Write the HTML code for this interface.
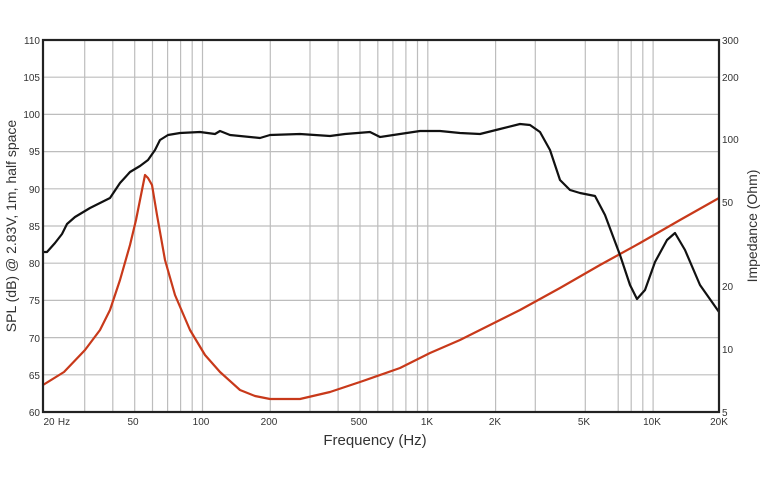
<!DOCTYPE html>
<html><head><meta charset="utf-8"><style>
html,body{margin:0;padding:0;background:#fff;}
svg{display:block;font-family:"Liberation Sans",sans-serif;}
</style></head><body>
<svg width="767" height="484" viewBox="0 0 767 484">
<rect width="767" height="484" fill="#fff"/>
<g stroke="#bdbdbd" stroke-width="1.2">
<line x1="43" x2="719" y1="77.2" y2="77.2"/><line x1="43" x2="719" y1="114.4" y2="114.4"/><line x1="43" x2="719" y1="151.6" y2="151.6"/><line x1="43" x2="719" y1="188.8" y2="188.8"/><line x1="43" x2="719" y1="226" y2="226"/><line x1="43" x2="719" y1="263.2" y2="263.2"/><line x1="43" x2="719" y1="300.4" y2="300.4"/><line x1="43" x2="719" y1="337.6" y2="337.6"/><line x1="43" x2="719" y1="374.8" y2="374.8"/>
<line x1="84.7" x2="84.7" y1="40" y2="412"/><line x1="112.8" x2="112.8" y1="40" y2="412"/><line x1="134.7" x2="134.7" y1="40" y2="412"/><line x1="152.5" x2="152.5" y1="40" y2="412"/><line x1="167.6" x2="167.6" y1="40" y2="412"/><line x1="180.6" x2="180.6" y1="40" y2="412"/><line x1="192.2" x2="192.2" y1="40" y2="412"/><line x1="202.5" x2="202.5" y1="40" y2="412"/>
<line x1="270.3" x2="270.3" y1="40" y2="412"/><line x1="310" x2="310" y1="40" y2="412"/><line x1="338.1" x2="338.1" y1="40" y2="412"/><line x1="360" x2="360" y1="40" y2="412"/><line x1="377.8" x2="377.8" y1="40" y2="412"/><line x1="392.9" x2="392.9" y1="40" y2="412"/><line x1="405.9" x2="405.9" y1="40" y2="412"/><line x1="417.5" x2="417.5" y1="40" y2="412"/><line x1="427.8" x2="427.8" y1="40" y2="412"/>
<line x1="495.6" x2="495.6" y1="40" y2="412"/><line x1="535.3" x2="535.3" y1="40" y2="412"/><line x1="585.3" x2="585.3" y1="40" y2="412"/><line x1="618.2" x2="618.2" y1="40" y2="412"/><line x1="631.2" x2="631.2" y1="40" y2="412"/><line x1="642.8" x2="642.8" y1="40" y2="412"/><line x1="653.1" x2="653.1" y1="40" y2="412"/>
</g>
<polyline fill="none" stroke="#c8391a" stroke-width="2.2" stroke-linejoin="round" points="43,385 64,372 85,350 100,330 110,310 120,280 130,245 136,220 142,190 145,175 148,178 152,185 157,215 165,260 175,295 190,330 205,355 220,372 240,390 255,396 270,399 300,399 330,392 360,382 400,368 430,353 460,340 490,325 520,310 560,288 600,265 640,243 680,220 719,198"/>
<polyline fill="none" stroke="#111" stroke-width="2.2" stroke-linejoin="round" points="43,252 47,252 55,243 62,234 67,224 75,217 90,208 110,198 120,183 130,172 140,166 148,160 155,150 160,140 168,135 180,133 200,132 215,134 220,131 230,135 260,138 270,135 300,134 330,136 345,134 370,132 380,137 400,134 420,131 440,131 460,133 480,134 500,129 520,124 530,125 540,132 550,150 560,180 570,190 580,193 595,196 605,215 620,255 630,285 637,299 645,290 655,262 667,240 675,233 685,250 700,285 719,312"/>
<rect x="43" y="40" width="676" height="372" fill="none" stroke="#222" stroke-width="2.2"/>
<g font-size="10" fill="#333" text-anchor="end">
<text x="40" y="44">110</text><text x="40" y="81">105</text><text x="40" y="118">100</text><text x="40" y="155">95</text><text x="40" y="193">90</text><text x="40" y="230">85</text><text x="40" y="267">80</text><text x="40" y="304">75</text><text x="40" y="342">70</text><text x="40" y="379">65</text><text x="40" y="416">60</text>
</g>
<g font-size="10" fill="#333">
<text x="722" y="44">300</text><text x="722" y="81">200</text><text x="722" y="143">100</text><text x="722" y="206">50</text><text x="722" y="290">20</text><text x="722" y="353">10</text><text x="722" y="416">5</text>
</g>
<g font-size="10" fill="#333" text-anchor="middle">
<text x="49" y="425">20</text><text x="64" y="425">Hz</text><text x="133" y="425">50</text><text x="201" y="425">100</text><text x="269" y="425">200</text><text x="359" y="425">500</text><text x="427" y="425">1K</text><text x="495" y="425">2K</text><text x="584" y="425">5K</text><text x="652" y="425">10K</text><text x="719" y="425">20K</text>
</g>
<text x="375" y="445" font-size="15" fill="#333" text-anchor="middle">Frequency (Hz)</text>
<text transform="translate(16,226) rotate(-90)" font-size="14" fill="#333" text-anchor="middle">SPL (dB) @ 2.83V, 1m, half space</text>
<text transform="translate(757,226) rotate(-90)" font-size="14" fill="#333" text-anchor="middle">Impedance (Ohm)</text>
</svg>
</body></html>
